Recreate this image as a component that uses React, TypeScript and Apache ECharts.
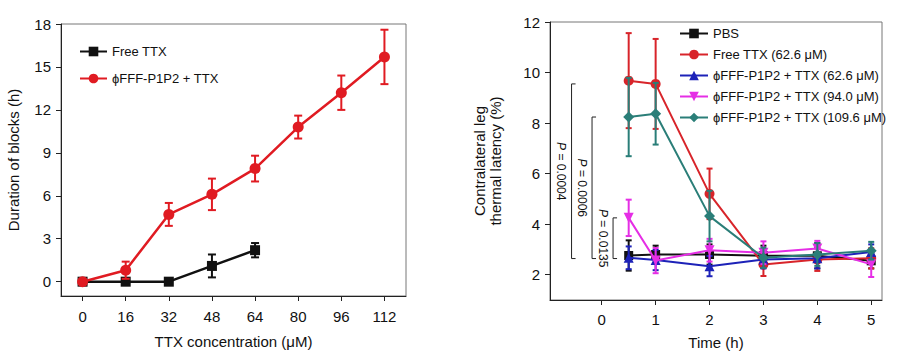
import React, { useEffect, useRef } from 'react';
import * as echarts from 'echarts';

// ---------- Left panel data ----------
const concX = [0, 16, 32, 48, 64, 80, 96, 112];
const leftXTicks = [0, 16, 32, 48, 64, 80, 96, 112];
const leftYTicks = [0, 3, 6, 9, 12, 15, 18];
const freeTTX = [0, 0, 0, 1.1, 2.2];
const freeTTXErr = [0, 0, 0, 0.8, 0.5];
const phiTTX = [0, 0.8, 4.7, 6.1, 7.9, 10.8, 13.2, 15.7];
const phiTTXErr = [0, 0.6, 0.8, 1.1, 0.9, 0.8, 1.2, 1.9];

// ---------- Right panel data ----------
const timeX = [0.5, 1, 2, 3, 4, 5];
const rightXTicks = [0, 1, 2, 3, 4, 5];
const rightYTicks = [2, 4, 6, 8, 10, 12];
const pbs = [2.76, 2.8, 2.8, 2.75, 2.75, 2.55];
const pbsErr = [0.6, 0.35, 0.4, 0.4, 0.5, 0.3];
const freeRight = [9.68, 9.55, 5.2, 2.4, 2.6, 2.65];
const freeRightErr = [1.88, 1.78, 1.0, 0.45, 0.45, 0.4];
const phi626 = [2.67, 2.58, 2.34, 2.6, 2.65, 2.9];
const phi626Err = [0.45, 0.4, 0.4, 0.35, 0.4, 0.3];
const phi940 = [4.25, 2.56, 2.97, 2.87, 3.04, 2.41];
const phi940Err = [0.72, 0.5, 0.45, 0.45, 0.3, 0.5];
const phi1096 = [8.24, 8.37, 4.32, 2.67, 2.8, 2.95];
const phi1096Err = [1.55, 1.22, 1.0, 0.4, 0.45, 0.35];

const bracketX = [-0.56, -0.18, 0.21];
const bracketTop = [9.55, 8.24, 4.25];
const bracketBottom = [2.64, 2.64, 2.64];
const bracketP = ['0.0004', '0.0006', '0.0135'];

const FONT = '"Liberation Sans", Arial, Helvetica, sans-serif';

function errData(xs: number[], ys: number[], es: number[]) {
  return ys.map((y, i) => [xs[i], y - es[i], y + es[i]]);
}

function errSeries(name: string, xs: number[], ys: number[], es: number[], color: string, gi: number, cap: number, lw: number, z: number) {
  return {
    type: 'custom',
    name,
    xAxisIndex: gi,
    yAxisIndex: gi,
    z,
    silent: true,
    data: errData(xs, ys, es),
    encode: { x: 0, y: [1, 2] },
    renderItem: (params: any, api: any) => {
      const x = api.value(0);
      const lo = api.coord([x, api.value(1)]);
      const hi = api.coord([x, api.value(2)]);
      const st = { stroke: color, lineWidth: lw };
      return {
        type: 'group',
        children: [
          { type: 'line', shape: { x1: lo[0], y1: lo[1], x2: hi[0], y2: hi[1] }, style: st },
          { type: 'line', shape: { x1: lo[0] - cap, y1: lo[1], x2: lo[0] + cap, y2: lo[1] }, style: st },
          { type: 'line', shape: { x1: hi[0] - cap, y1: hi[1], x2: hi[0] + cap, y2: hi[1] }, style: st },
        ],
      };
    },
  };
}

function lineSeries(name: string, xs: number[], ys: number[], color: string, gi: number, symbol: string, size: number, lw: number, z: number, rotate = 0) {
  return {
    type: 'line',
    name,
    xAxisIndex: gi,
    yAxisIndex: gi,
    z,
    data: ys.map((y, i) => [xs[i], y]),
    symbol,
    symbolSize: size,
    symbolRotate: rotate,
    showSymbol: true,
    lineStyle: { color, width: lw },
    itemStyle: { color },
    emphasis: { disabled: true },
  };
}

const axisCommon = {
  axisLine: { show: true, onZero: false, lineStyle: { color: '#222', width: 1 } },
  axisTick: { show: true, inside: false, length: 5, lineStyle: { color: '#222' } },
  splitLine: { show: false },
};

export default function App() {
  const ref = useRef<HTMLDivElement>(null);
  useEffect(() => {
    if (!ref.current) return;
    const chart = echarts.init(ref.current, undefined, { renderer: 'svg' });
    const option: any = {
      animation: false,
      backgroundColor: '#fff',
      textStyle: { fontFamily: FONT },
      grid: [
        { left: 61, right: 495, top: 24, bottom: 65, show: true, borderColor: '#777', borderWidth: 1 },
        { left: 550, right: 19, top: 22, bottom: 61, show: true, borderColor: '#777', borderWidth: 1 },
      ],
      xAxis: [
        {
          ...axisCommon,
          gridIndex: 0, type: 'value', min: -8, max: 120,
          axisLabel: { customValues: leftXTicks, fontSize: 15, color: '#111', margin: 13, fontFamily: FONT },
          axisTick: { ...axisCommon.axisTick, customValues: leftXTicks },
          name: 'TTX concentration (\u03bcM)', nameLocation: 'middle', nameGap: 38,
          nameTextStyle: { fontSize: 15, color: '#111', fontFamily: FONT },
        },
        {
          ...axisCommon,
          gridIndex: 1, type: 'value', min: -0.96, max: 5.2,
          axisLabel: { customValues: rightXTicks, fontSize: 15, color: '#111', margin: 12, fontFamily: FONT },
          axisTick: { ...axisCommon.axisTick, customValues: rightXTicks },
          name: 'Time (h)', nameLocation: 'middle', nameGap: 35,
          nameTextStyle: { fontSize: 15, color: '#111', fontFamily: FONT },
        },
      ],
      yAxis: [
        {
          ...axisCommon,
          gridIndex: 0, type: 'value', min: -1, max: 18,
          axisLabel: { customValues: leftYTicks, fontSize: 15, color: '#111', margin: 10, fontFamily: FONT },
          axisTick: { ...axisCommon.axisTick, customValues: leftYTicks },
          name: 'Duration of blocks (h)', nameLocation: 'middle', nameGap: 40,
          nameTextStyle: { fontSize: 15, color: '#111', fontFamily: FONT },
        },
        {
          ...axisCommon,
          gridIndex: 1, type: 'value', min: 1, max: 12,
          axisLabel: { customValues: rightYTicks, fontSize: 15, color: '#111', margin: 10, fontFamily: FONT },
          axisTick: { ...axisCommon.axisTick, customValues: rightYTicks },
          name: 'Contralateral leg\nthermal latency (%)', nameLocation: 'middle', nameGap: 47,
          nameTextStyle: { fontSize: 15, color: '#111', fontFamily: FONT, lineHeight: 16 },
        },
      ],
      legend: [
        {
          data: ['Free TTX', '\u03d5FFF-P1P2 + TTX'],
          orient: 'vertical', left: 74, top: 40, itemWidth: 27, itemHeight: 12, itemGap: 14,
          textStyle: { fontSize: 13, color: '#111', fontFamily: FONT },
          selectedMode: false,
        },
        {
          data: ['PBS', 'Free TTX (62.6 \u03bcM)', '\u03d5FFF-P1P2 + TTX (62.6 \u03bcM)', '\u03d5FFF-P1P2 + TTX (94.0 \u03bcM)', '\u03d5FFF-P1P2 + TTX (109.6 \u03bcM)'],
          orient: 'vertical', left: 674, top: 22, itemWidth: 28, itemHeight: 12, itemGap: 8,
          textStyle: { fontSize: 13, color: '#111', fontFamily: FONT },
          selectedMode: false,
        },
      ],
      series: [
        errSeries('e-free', concX, freeTTX, freeTTXErr, '#111', 0, 4, 2, 2),
        lineSeries('Free TTX', concX, freeTTX, '#111', 0, 'rect', 10, 2.5, 3),
        errSeries('e-phi', concX, phiTTX, phiTTXErr, '#e01b22', 0, 4, 2, 4),
        lineSeries('\u03d5FFF-P1P2 + TTX', concX, phiTTX, '#e01b22', 0, 'circle', 11, 2.5, 5),

        errSeries('e-pbs', timeX, pbs, pbsErr, '#111', 1, 3, 2, 2),
        lineSeries('PBS', timeX, pbs, '#111', 1, 'rect', 9, 2, 3),
        errSeries('e-free2', timeX, freeRight, freeRightErr, '#d8242a', 1, 3, 2, 4),
        lineSeries('Free TTX (62.6 \u03bcM)', timeX, freeRight, '#d8242a', 1, 'circle', 10, 2, 5),
        errSeries('e-626', timeX, phi626, phi626Err, '#1d22b8', 1, 3, 2, 6),
        lineSeries('\u03d5FFF-P1P2 + TTX (62.6 \u03bcM)', timeX, phi626, '#1d22b8', 1, 'triangle', 10, 2, 7),
        errSeries('e-940', timeX, phi940, phi940Err, '#e52ee5', 1, 3, 2, 8),
        lineSeries('\u03d5FFF-P1P2 + TTX (94.0 \u03bcM)', timeX, phi940, '#e52ee5', 1, 'triangle', 10, 2, 9, 180),
        errSeries('e-1096', timeX, phi1096, phi1096Err, '#2a7e78', 1, 3, 2, 10),
        lineSeries('\u03d5FFF-P1P2 + TTX (109.6 \u03bcM)', timeX, phi1096, '#2a7e78', 1, 'diamond', 11, 2, 11),

        {
          type: 'custom',
          name: 'brackets',
          xAxisIndex: 1,
          yAxisIndex: 1,
          z: 12,
          silent: true,
          clip: false,
          data: bracketX.map((x, i) => [x, bracketBottom[i], bracketTop[i], i]),
          encode: { x: 0, y: [1, 2] },
          renderItem: (params: any, api: any) => {
            const x = api.value(0);
            const lo = api.coord([x, api.value(1)]);
            const hi = api.coord([x, api.value(2)]);
            const i = api.value(3);
            const st = { stroke: '#222', lineWidth: 1, fill: 'none' };
            return {
              type: 'group',
              children: [
                {
                  type: 'polyline',
                  shape: { points: [[hi[0] + 4, hi[1]], [hi[0], hi[1]], [lo[0], lo[1]], [lo[0] + 4, lo[1]]] },
                  style: st,
                },
                {
                  type: 'text',
                  x: lo[0] - 10.5,
                  y: (lo[1] + hi[1]) / 2,
                  rotation: -Math.PI / 2,
                  style: {
                    text: '{i|P} = ' + bracketP[i],
                    align: 'center',
                    verticalAlign: 'middle',
                    fontSize: 12,
                    fontFamily: FONT,
                    fill: '#111',
                    rich: { i: { fontStyle: 'italic', fontSize: 12, fontFamily: FONT, fill: '#111' } },
                  },
                },
              ],
            };
          },
        },
      ],
    };
    chart.setOption(option);
    return () => chart.dispose();
  }, []);
  return <div ref={ref} style={{ position: 'fixed', left: 0, top: 0, width: 901, height: 361 }} />;
}
